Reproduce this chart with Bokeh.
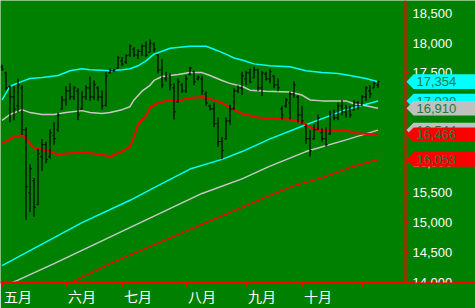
from bokeh.plotting import figure
from bokeh.models import (Range1d, FixedTicker, NumeralTickFormatter, LinearAxis,
                          ColumnDataSource)
from bokeh.core.properties import value
from bokeh.embed import file_html
from bokeh.resources import INLINE

# ---------------- data ----------------
opens = [17600, 17500, 17270, 17100, 16950, 17250, 16550, 15500, 15700, 15300,
         16100, 16300, 16100, 16450, 16550, 16900, 17050, 17200, 17100, 17200,
         16900, 17100, 17250, 17100, 17250, 17100, 16960, 17500, 17540, 17580,
         17700, 17680, 17800, 17900, 17800, 17860, 17950, 17850, 17980, 17800,
         17550, 17400, 17450, 17250, 17020, 17300, 17200, 17480, 17520, 17400,
         17400, 17150, 16950, 16900, 16650, 16350, 16400, 16700, 16900, 17200,
         17250, 17400, 17500, 17420, 17550, 17250, 17480, 17400, 17450, 17300,
         16900, 16950, 17000, 17150, 17100, 16800, 16600, 16400, 16400, 16550,
         16500, 16400, 16480, 16800, 16750, 16950, 16850, 16900, 16880, 17000,
         16960, 17100, 17200, 17250, 17300]
highs = [17636, 17522, 17294, 17277, 17408, 17294, 16593, 15973, 15745, 16234,
         16397, 16348, 16560, 16674, 16837, 17114, 17277, 17326, 17277, 17245,
         17196, 17294, 17440, 17375, 17277, 17212, 17522, 17571, 17571, 17783,
         17766, 17815, 17978, 17929, 17897, 17978, 18027, 18060, 18011, 17815,
         17734, 17522, 17489, 17326, 17408, 17326, 17457, 17603, 17538, 17457,
         17457, 17196, 16968, 17000, 16756, 16430, 16756, 16968, 17245, 17294,
         17522, 17538, 17571, 17603, 17571, 17538, 17522, 17571, 17457, 17408,
         16952, 17082, 17196, 17359, 17131, 16952, 16642, 16544, 16642, 16805,
         16577, 16593, 16870, 16886, 17000, 17049, 16968, 16952, 17049, 17033,
         17131, 17277, 17294, 17359, 17375]
lows = [17538, 17212, 16674, 16707, 16837, 16462, 15044, 15175, 15093, 15289,
        15859, 15990, 16071, 16299, 16511, 16886, 16952, 17049, 17049, 16707,
        16886, 17049, 17033, 17049, 17033, 16886, 16940, 17489, 17522, 17571,
        17620, 17652, 17766, 17766, 17734, 17783, 17766, 17848, 17848, 17489,
        17245, 17359, 17212, 16723, 17000, 17163, 17163, 17457, 17294, 17375,
        17131, 16952, 16870, 16593, 16267, 16055, 16381, 16625, 16886, 17163,
        17131, 17294, 17326, 17408, 17196, 17114, 17375, 17326, 17245, 17196,
        16723, 16919, 16723, 17082, 16674, 16642, 16315, 16104, 16381, 16544,
        16348, 16267, 16462, 16707, 16707, 16788, 16756, 16756, 16870, 16886,
        16952, 17033, 17082, 17245, 17245]
closes = [17560, 17250, 17100, 16900, 17300, 16550, 15600, 15900, 15250, 16150,
          16300, 16050, 16500, 16400, 16800, 17050, 17200, 17100, 17250, 16800,
          17100, 17250, 17100, 17300, 17100, 16950, 17450, 17540, 17550, 17750,
          17650, 17790, 17950, 17800, 17860, 17950, 17800, 18000, 17900, 17550,
          17300, 17450, 17300, 16850, 17350, 17200, 17400, 17580, 17350, 17430,
          17200, 17000, 16900, 16650, 16350, 16200, 16700, 16900, 17200, 17250,
          17450, 17500, 17350, 17550, 17250, 17500, 17400, 17520, 17300, 17250,
          16800, 17050, 17150, 17300, 16800, 16700, 16400, 16200, 16550, 16750,
          16400, 16300, 16800, 16750, 16950, 16850, 16900, 16800, 17000, 16950,
          17100, 17250, 17150, 17320, 17354]

month_labels = ["五月", "六月", "七月", "八月", "九月", "十月"]
month_start_idx = [0, 16, 30, 46, 61, 75, 90]

upper_idx = [0, 2, 5, 7, 10, 14, 17, 20, 22, 27, 30, 32, 34, 36, 38, 40, 42, 47, 51,
             53, 56, 58, 60, 63, 67, 72, 76, 80, 84, 87, 91, 94]
upper_val = [17049, 17277, 17359, 17408, 17424, 17457, 17538, 17571, 17554, 17538,
             17554, 17571, 17620, 17701, 17815, 17864, 17913, 17946, 17946, 17897,
             17815, 17750, 17717, 17652, 17620, 17603, 17538, 17506, 17489, 17457,
             17408, 17354]

mid_idx = [0, 2, 5, 7, 10, 13, 16, 20, 22, 25, 27, 30, 32, 33, 35, 37, 38, 40, 44, 47,
           50, 52, 55, 57, 60, 62, 66, 72, 75, 77, 80, 86, 88, 91, 94]
mid_val = [16707, 16805, 16886, 16837, 16805, 16805, 16837, 16870, 16837, 16821,
           16837, 16886, 16935, 17049, 17196, 17294, 17375, 17440, 17473, 17506,
           17506, 17457, 17375, 17326, 17277, 17212, 17196, 17180, 17131, 17049,
           17033, 17033, 16984, 16952, 16910]

red_idx = [0, 3, 5, 6, 7, 8, 10, 12, 14, 16, 20, 23, 26, 27, 28, 30, 32, 33, 34, 36,
           37, 39, 42, 44, 47, 50, 52, 55, 57, 60, 64, 72, 75, 77, 80, 86, 88, 94]
red_val = [16316, 16430, 16462, 16397, 16316, 16251, 16218, 16185, 16136, 16153,
           16169, 16153, 16120, 16088, 16136, 16185, 16267, 16430, 16642, 16788,
           16919, 17000, 17049, 17033, 17082, 17098, 17066, 17000, 16919, 16821,
           16756, 16723, 16674, 16593, 16527, 16544, 16495, 16466]

cyan_diag_idx = [0, 20, 32, 39, 47, 55, 60, 67, 75, 86, 94]
cyan_diag_val = [14278, 14996, 15370, 15615, 15892, 16055, 16185, 16397, 16609, 16886, 17030]

gray_diag_idx = [0, 4, 13, 50, 60, 67, 76, 86, 94]
gray_diag_val = [13928, 14034, 14311, 15485, 15729, 15941, 16185, 16381, 16544]

red_diag_idx = [15, 18, 27, 67, 73, 80, 88, 94]
red_diag_val = [13925, 14017, 14311, 15452, 15615, 15745, 15941, 16053]

y_ticks = [14000, 14500, 15000, 15500, 16000, 16500, 17000, 17500, 18000, 18500]

# ---------------- layout constants ----------------
GREEN = "#008000"
PX_PER_BAR = 4.0
W, H = 475, 308
FRAME_H = 288
X0 = -1.5 / PX_PER_BAR
X1 = X0 + W / PX_PER_BAR
Y0, Y1 = 13995, 18712
AXIS_PX = 405          # screen x of the price axis line


def px_to_x(px):
    return X0 + px / PX_PER_BAR


p = figure(width=W, height=H, output_backend="svg", toolbar_location=None,
           x_range=Range1d(X0, X1), y_range=Range1d(Y0, Y1),
           y_axis_location=None, min_border_left=0, min_border_top=0,
           min_border_right=0, min_border_bottom=H - FRAME_H)
p.background_fill_color = GREEN
p.border_fill_color = GREEN
p.outline_line_color = None
p.xgrid.visible = False
p.ygrid.visible = False

# lines
p.line(cyan_diag_idx, cyan_diag_val, line_color="#00ffff", line_width=1.5)
p.line(gray_diag_idx, gray_diag_val, line_color="#c8c8c8", line_width=1.5)
p.line(red_diag_idx, red_diag_val, line_color="#ff0000", line_width=1.5)
p.line(upper_idx, upper_val, line_color="#00ffff", line_width=1.5)
p.line(mid_idx, mid_val, line_color="#c8c8c8", line_width=1.5)
p.line(red_idx, red_val, line_color="#ff0000", line_width=2)

# OHLC bars
n = len(opens)
idx = list(range(n))
src = ColumnDataSource(dict(x=idx, xl=[i - 0.4 for i in idx], xr=[i + 0.4 for i in idx],
                            o=opens, h=highs, l=lows, c=closes))
p.segment(x0="x", y0="l", x1="x", y1="h", source=src, line_color="black", line_width=1.2)
p.segment(x0="xl", y0="o", x1="x", y1="o", source=src, line_color="black", line_width=1.2)
p.segment(x0="x", y0="c", x1="xr", y1="c", source=src, line_color="black", line_width=1.2)

# price axis at x = 405 px, labels to its right
ya = LinearAxis(fixed_location=px_to_x(AXIS_PX))
ya.ticker = FixedTicker(ticks=y_ticks)
ya.formatter = NumeralTickFormatter(format="0,0")
ya.axis_line_color = "#ff0000"
ya.axis_line_width = 2
ya.major_tick_line_color = "#ff0000"
ya.major_tick_in = 0
ya.major_tick_out = 3
ya.minor_tick_line_color = None
ya.major_label_standoff = 4
ya.major_label_text_color = "#ffffff"
ya.major_label_text_font = "Liberation Sans"
ya.major_label_text_font_size = "13px"
p.add_layout(ya, "right")

# bottom axis: tick marks at month starts, labels right of them
xa = p.xaxis[0]
label_pos = [m + 4 for m in month_start_idx[:len(month_labels)]]
xa.ticker = FixedTicker(ticks=label_pos, minor_ticks=month_start_idx)
xa.major_label_overrides = {pos: lab for pos, lab in zip(label_pos, month_labels)}
xa.axis_line_color = "#ff0000"
xa.axis_line_width = 2
xa.major_tick_line_color = None
xa.major_tick_in = 0
xa.major_tick_out = 0
xa.minor_tick_line_color = "#ff0000"
xa.minor_tick_in = 0
xa.minor_tick_out = 4
xa.major_label_standoff = -1
xa.major_label_text_color = "#ffffff"
xa.major_label_text_font = "Noto Sans CJK SC"
xa.major_label_text_font_size = "14px"

# last-value tags (each box drawn above the previous one and above the axis labels)
half = 7.5 * (Y1 - Y0) / FRAME_H
tag_vals = [upper_val[-1], cyan_diag_val[-1], mid_val[-1], gray_diag_val[-1],
            red_val[-1], red_diag_val[-1]]
tag_cols = ["#00ffff", "#00ffff", "#c0c0c0", "#c0c0c0", "#ff0000", "#ff0000"]
xa_, xb_, xc_ = px_to_x(406), px_to_x(413), px_to_x(W + 2)
for v, col in zip(tag_vals, tag_cols):
    p.patch(x=[xa_, xb_, xc_, xc_, xb_], y=[v, v + half, v + half, v - half, v - half],
            fill_color=col, line_color=None, level="overlay")
    p.text(x=[px_to_x(416)], y=[v], text=[f"{v:,}"], text_color="#1f7a3c",
           text_font=value("Liberation Sans"), text_font_size="13px",
           text_baseline="middle", text_align="left", level="overlay")

open("out.html", "w").write(file_html(p, INLINE))
